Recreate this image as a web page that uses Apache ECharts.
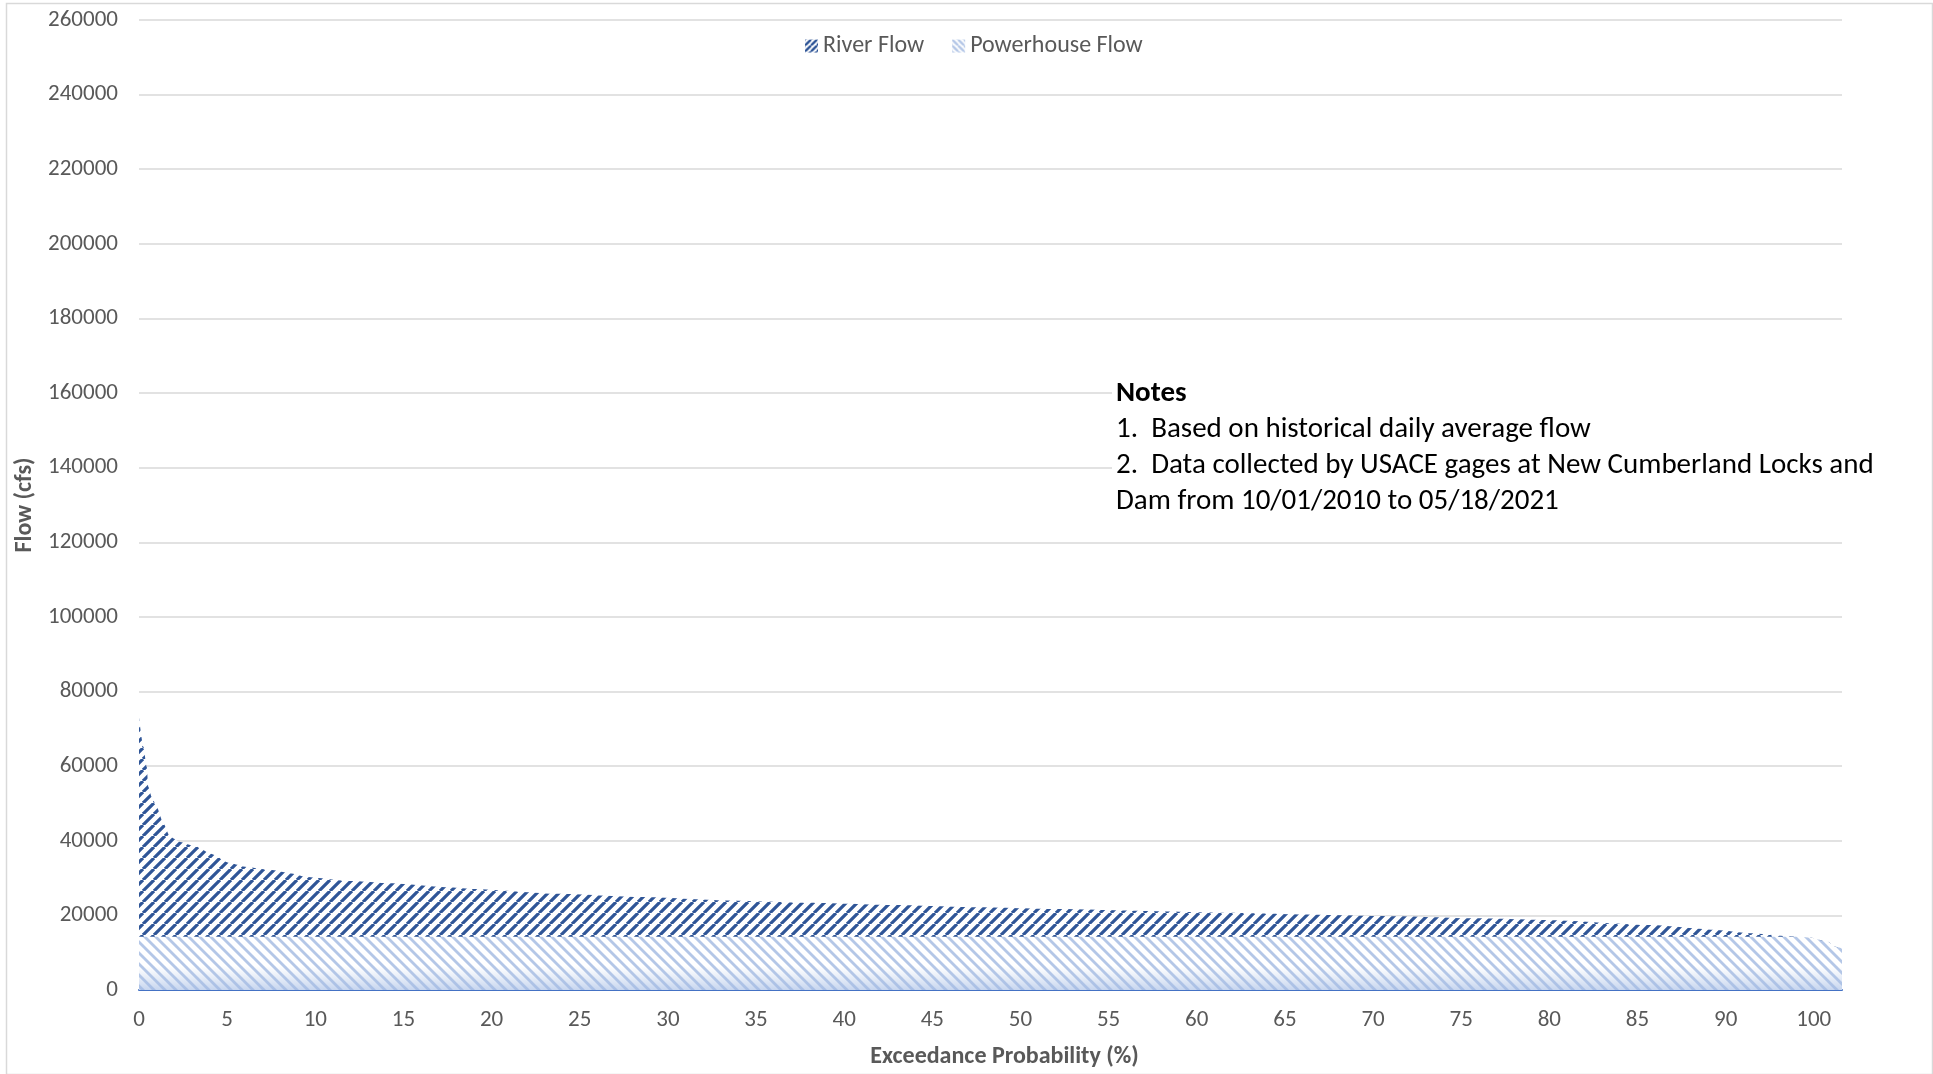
<!DOCTYPE html>
<html><head><meta charset="utf-8">
<script src="https://cdn.jsdelivr.net/npm/echarts@6/dist/echarts.min.js"></script>
<style>html,body{margin:0;padding:0;background:#fff}#c{width:1933px;height:1074px}</style>
</head><body><div id="c"></div>
<script>
// ---- data ----
const seriesNames = ['River Flow', 'Powerhouse Flow'];
// x positions in tick-slot units (tick labels below sit every 5 units)
const riverX = [0, 0.25, 0.44, 0.53, 0.72, 1.0, 1.38, 1.76, 2.33, 3.28, 4.03, 5.17, 6.11, 7.44, 8.55, 9.5, 12.0, 14.25, 17.7, 19.0, 23.75, 28.5, 33.25, 38.0, 42.75, 47.5, 52.25, 57.0, 61.75, 66.5, 71.25, 76.0, 80.1, 85.8, 89.5, 91.4, 93.3, 94.8, 95.8, 96.2, 96.6];
const riverFlow = [73000, 65200, 59800, 54500, 51800, 49100, 44700, 41100, 39700, 38400, 36600, 34000, 33000, 32200, 31300, 30300, 29200, 28600, 27500, 27100, 25800, 24900, 24000, 23400, 22800, 22200, 21700, 21200, 20700, 20200, 19800, 19200, 18700, 17400, 16100, 15200, 14500, 14100, 12900, 11600, 11200];
const powerX = [0, 94.05, 94.8, 95.8, 96.2, 96.6];
const powerhouseFlow = [14300, 14300, 14100, 12900, 11600, 11200];
const xTickLabels = ['0', '5', '10', '15', '20', '25', '30', '35', '40', '45', '50', '55', '60', '65', '70', '75', '80', '85', '90', '100'];
const yTickLabels = ['0', '20000', '40000', '60000', '80000', '100000', '120000', '140000', '160000', '180000', '200000', '220000', '240000', '260000'];
const xAxisRange = { min: 0, max: 96.6, interval: 5 };
const yAxisRange = { min: 0, max: 260000, interval: 20000 };
const xAxisTitle = 'Exceedance Probability (%)';
const yAxisTitle = 'Flow (cfs)';
const notesTitle = 'Notes';
const noteLines = ['1.  Based on historical daily average flow', '2.  Data collected by USACE gages at New Cumberland Locks and', 'Dam from 10/01/2010 to 05/18/2021'];

const FONT = 'Calibri, Carlito, Lato, sans-serif';

// hatch pattern tiles
function hatch(p, h, color, lw, dir, bottomGrad) {
  const c = document.createElement('canvas');
  c.width = p; c.height = h;
  const ctx = c.getContext('2d');
  ctx.fillStyle = '#ffffff';
  ctx.fillRect(0, 0, p, h);
  ctx.strokeStyle = color; ctx.lineWidth = lw;
  ctx.beginPath();
  for (let x0 = -h - p; x0 <= 2 * p; x0 += p) {
    if (dir === '/') { ctx.moveTo(x0, h); ctx.lineTo(x0 + h, 0); }
    else { ctx.moveTo(x0, 0); ctx.lineTo(x0 + h, h); }
  }
  ctx.stroke();
  if (bottomGrad) {
    const g = ctx.createLinearGradient(0, bottomGrad[0], 0, bottomGrad[1]);
    g.addColorStop(0, 'rgba(180,199,231,0)');
    g.addColorStop(1, 'rgba(160,185,228,0.6)');
    ctx.fillStyle = g;
    ctx.fillRect(0, bottomGrad[0], p, bottomGrad[1] - bottomGrad[0]);
  }
  return { image: c, repeat: 'repeat' };
}
const riverPattern = hatch(11, 11, '#2F5597', 3.2, '/');
const powerPattern = hatch(11, 1078, '#B4C7E7', 2.8, '\\', [966, 990]);
const riverLegend = hatch(6, 6, '#2F5597', 2.4, '/');
const powerLegend = hatch(6, 6, '#B4C7E7', 2.4, '\\');

const chart = echarts.init(document.getElementById('c'), null, { renderer: 'canvas' });
chart.setOption({
  animation: false,
  backgroundColor: '#ffffff',
  textStyle: { fontFamily: FONT },
  grid: { left: 139, right: 91, top: 20, bottom: 84, containLabel: false },
  legend: {
    left: 800, top: 29, icon: 'rect', itemWidth: 13, itemHeight: 13, itemGap: 28,
    textStyle: { fontFamily: FONT, fontSize: 24, color: '#595959' },
    data: [
      { name: seriesNames[0], itemStyle: { color: riverLegend } },
      { name: seriesNames[1], itemStyle: { color: powerLegend } }
    ]
  },
  xAxis: {
    type: 'value', min: xAxisRange.min, max: xAxisRange.max, interval: xAxisRange.interval,
    name: xAxisTitle, nameLocation: 'middle', nameGap: 55,
    nameTextStyle: { fontFamily: FONT, fontSize: 24, fontWeight: 'bold', color: '#595959', padding: [0, 0, 0, 28] },
    axisLine: { show: true, lineStyle: { color: '#4472C4', width: 2 } },
    axisTick: { show: false },
    splitLine: { show: false },
    axisLabel: {
      showMaxLabel: false, margin: 19, fontFamily: FONT, fontSize: 23, color: '#595959',
      formatter: function (v) { const i = Math.round(v / xAxisRange.interval); return xTickLabels[i] !== undefined ? xTickLabels[i] : ''; }
    }
  },
  yAxis: {
    type: 'value', min: yAxisRange.min, max: yAxisRange.max, interval: yAxisRange.interval,
    name: yAxisTitle, nameLocation: 'middle', nameGap: 100, nameRotate: 90,
    nameTextStyle: { fontFamily: FONT, fontSize: 24, fontWeight: 'bold', color: '#595959' },
    axisLine: { show: false }, axisTick: { show: false },
    splitLine: { lineStyle: { color: '#D9D9D9', width: 1.5 } },
    axisLabel: {
      margin: 21, fontFamily: FONT, fontSize: 23, color: '#595959',
      formatter: function (v) { const i = Math.round(v / yAxisRange.interval); return yTickLabels[i] !== undefined ? yTickLabels[i] : ''; }
    }
  },
  series: [
    {
      name: seriesNames[0], type: 'line', showSymbol: false, smooth: 0.2, smoothMonotone: 'x',
      data: riverX.map((x, i) => [x, riverFlow[i]]),
      itemStyle: { color: riverLegend },
      lineStyle: { width: 0, color: 'rgba(0,0,0,0)' },
      areaStyle: { color: riverPattern, opacity: 1 },
      z: 2
    },
    {
      name: seriesNames[1], type: 'line', showSymbol: false, smooth: 0.2, smoothMonotone: 'x',
      data: powerX.map((x, i) => [x, powerhouseFlow[i]]),
      itemStyle: { color: powerLegend },
      lineStyle: { width: 0, color: 'rgba(0,0,0,0)' },
      areaStyle: { color: powerPattern, opacity: 1 },
      z: 3
    }
  ],
  graphic: [
    { type: 'rect', left: 4, top: 1, shape: { width: 1926, height: 1071 }, style: { fill: 'none', stroke: '#D9D9D9', lineWidth: 1.5 }, silent: true, z: -10 },
    {
      type: 'text', left: 1112, top: 376, z: 50,
      style: {
        text: '{b|' + notesTitle + '}\n' + noteLines.map(s => '{n|' + s + '}').join('\n'),
        backgroundColor: '#ffffff', padding: [0, 20, 4, 4],
        rich: {
          b: { fontFamily: FONT, fontSize: 29, fontWeight: 'bold', color: '#000000', lineHeight: 36 },
          n: { fontFamily: FONT, fontSize: 29, color: '#000000', lineHeight: 36 }
        }
      }
    }
  ]
});
</script></body></html>
